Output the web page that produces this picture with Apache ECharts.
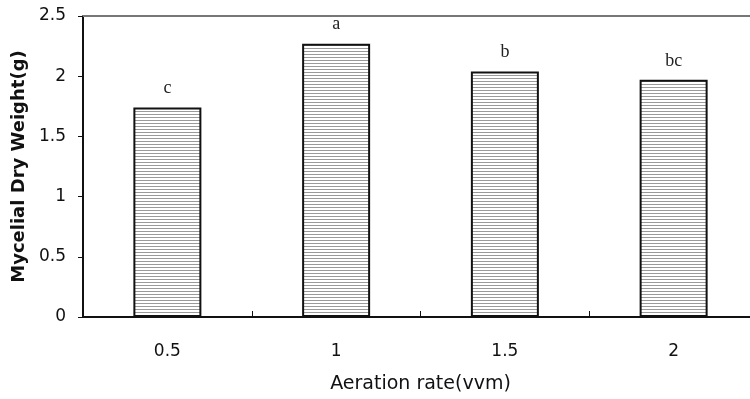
<!DOCTYPE html>
<html><head><meta charset="utf-8">
<script src="https://cdn.jsdelivr.net/npm/echarts@6/dist/echarts.min.js"></script>
<style>html,body{margin:0;padding:0;background:#fff}#c{width:750px;height:399px}</style>
</head><body><div id="c"></div>
<script>
const categories = ['0.5', '1', '1.5', '2'];
const weights = [1.74, 2.27, 2.04, 1.97];
const letters = ['c', 'a', 'b', 'bc'];
const yTicks = [0, 0.5, 1, 1.5, 2, 2.5];

const pc = document.createElement('canvas');
pc.width = 4; pc.height = 3;
const g = pc.getContext('2d');
g.fillStyle = '#ffffff'; g.fillRect(0, 0, 4, 3);
g.fillStyle = '#9a9a9a'; g.fillRect(0, 0, 4, 1);

const chart = echarts.init(document.getElementById('c'), null, {renderer: 'canvas'});
chart.setOption({
  animation: false,
  backgroundColor: '#fff',
  grid: {left: 83, right: -8, top: 16, bottom: 82, containLabel: false, outerBoundsMode: 'none'},
  xAxis: [{
    type: 'category', data: categories,
    axisLine: {lineStyle: {color: '#111', width: 2}},
    axisTick: {show: true, inside: true, interval: 0, length: 6, lineStyle: {color: '#111', width: 1}},
    axisLabel: {margin: 26, fontSize: 17, color: '#111', fontFamily: 'DejaVu Sans'},
    name: 'Aeration rate(vvm)', nameLocation: 'middle', nameGap: 58,
    nameTextStyle: {fontSize: 19, color: '#111', fontFamily: 'DejaVu Sans'}
  }, {
    type: 'category', data: categories, position: 'top',
    axisLine: {lineStyle: {color: '#777', width: 2}},
    axisTick: {show: false}, axisLabel: {show: false}
  }],
  yAxis: {
    type: 'value', min: 0, max: 2.5, interval: 0.5,
    axisLine: {show: true, lineStyle: {color: '#111', width: 2}},
    axisTick: {show: true, length: 5, lineStyle: {color: '#111'}},
    splitLine: {show: false},
    axisLabel: {margin: 17, fontSize: 17, color: '#111', fontFamily: 'DejaVu Sans',
      formatter: v => yTicks.includes(v) ? String(v) : ''},
    name: 'Mycelial Dry Weight(g)', nameLocation: 'middle', nameGap: 55, nameRotate: 90,
    nameTextStyle: {fontSize: 18, color: '#111', fontFamily: 'DejaVu Sans', fontWeight: 'bold'}
  },
  series: [{
    type: 'bar', data: weights, barWidth: 68,
    itemStyle: {color: {image: pc, repeat: 'repeat'}, borderColor: '#111', borderWidth: 2},
    label: {show: true, position: 'top', distance: 10, fontSize: 18, color: '#222',
      fontFamily: 'Liberation Serif', formatter: p => letters[p.dataIndex]}
  }]
});
</script></body></html>
